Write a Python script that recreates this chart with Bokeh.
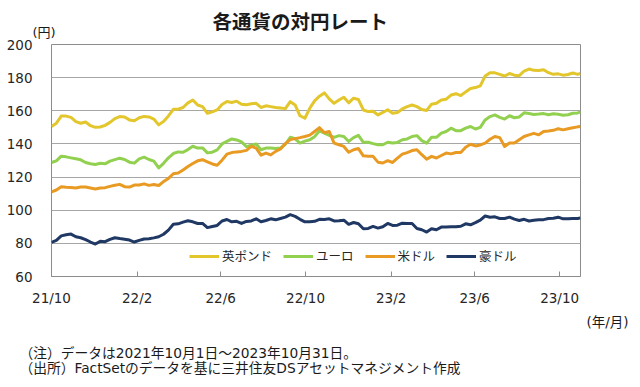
import pandas as pd
from datetime import datetime
from bokeh.plotting import figure
from bokeh.models import (Range1d, FixedTicker, Legend, LegendItem,
                          ColumnDataSource, Title)
from bokeh.embed import file_html
from bokeh.resources import INLINE

# ---------------- data (weekly readings, yen per unit) ----------------
dates = list(pd.date_range("2021-10-01", "2023-10-27", freq="7D")) + [pd.Timestamp("2023-10-31")]

gbp = [150.5, 152.5, 156.8, 156.8, 156.0, 153.5, 152.5, 153.2, 151.0, 150.0,
       150.2, 151.2, 153.0, 155.3, 156.5, 156.3, 154.5, 154.0, 155.8, 156.6,
       156.3, 155.0, 151.5, 153.6, 156.9, 160.9, 161.0, 162.0, 164.8, 166.5,
       163.5, 162.5, 158.5, 159.4, 160.5, 163.8, 165.6, 165.0, 165.8, 164.0,
       163.7, 164.2, 164.5, 162.0, 163.0, 162.5, 162.0, 161.7, 161.3, 165.5,
       163.5, 157.0, 155.5, 161.5, 166.0, 168.8, 170.8, 167.2, 164.5, 166.5,
       168.2, 164.8, 167.6, 166.8, 160.5, 159.5, 159.7, 157.5, 159.0, 160.6,
       158.5, 159.0, 161.1, 162.5, 163.5, 162.5, 160.8, 160.2, 164.0, 164.5,
       166.5, 167.0, 169.5, 170.3, 169.2, 171.4, 173.4, 174.0, 175.0, 181.0,
       183.0, 182.9, 182.0, 181.0, 182.5, 181.5, 181.2, 184.0, 185.2, 184.4,
       184.3, 184.8, 183.0, 182.0, 182.3, 181.5, 181.9, 182.8, 182.0, 182.6]

eur = [128.8, 129.8, 132.6, 132.2, 131.6, 131.0, 130.4, 128.8, 128.0, 127.6,
       128.3, 128.0, 129.6, 130.5, 131.4, 130.6, 129.0, 128.4, 131.0, 132.0,
       130.6, 129.6, 125.5, 128.3, 131.6, 134.2, 135.2, 135.0, 136.6, 138.6,
       137.5, 137.6, 134.6, 135.0, 136.4, 140.0, 141.6, 143.0, 142.4, 141.2,
       138.4, 139.2, 140.0, 136.5, 137.5, 137.5, 137.2, 137.5, 139.8, 144.0,
       143.1, 140.5, 141.7, 142.5, 144.4, 147.8, 146.5, 145.2, 144.0, 145.0,
       144.5, 141.5, 143.8, 145.2, 141.0, 141.0, 140.2, 139.5, 139.5, 141.0,
       140.5, 140.9, 142.5, 143.0, 144.5, 145.0, 142.0, 140.5, 144.0, 144.0,
       146.5, 147.5, 149.5, 148.0, 148.0, 149.5, 150.5, 149.0, 150.0, 154.5,
       156.5, 157.5, 156.0, 155.0, 157.0, 155.8, 156.3, 158.8, 158.3, 157.8,
       158.0, 158.3, 157.6, 158.2, 157.9, 157.3, 157.6, 158.5, 158.7, 159.3]

usd = [111.0, 112.2, 114.2, 113.8, 113.7, 113.4, 114.0, 114.0, 113.4, 112.8,
       113.4, 113.6, 114.4, 115.1, 115.6, 114.2, 114.0, 115.2, 115.2, 115.9,
       115.0, 115.5, 114.9, 117.3, 119.2, 122.0, 122.5, 124.3, 126.4, 128.2,
       129.8, 130.5, 129.2, 127.9, 127.1, 130.2, 133.8, 134.8, 135.2, 135.5,
       136.1, 138.5, 137.5, 133.2, 134.5, 133.4, 135.5, 137.0, 140.2, 142.6,
       143.2, 143.8, 144.5, 145.3, 147.5, 149.8, 146.8, 147.5, 140.5, 139.5,
       138.5, 135.0, 136.5, 137.2, 132.8, 132.5, 132.5, 129.0, 128.5, 129.9,
       128.8, 131.4, 133.8, 134.8, 136.0, 136.5, 133.5, 130.8, 132.5, 131.5,
       133.0, 134.5, 134.0, 134.8, 134.8, 138.0, 139.8, 138.8, 139.4, 140.5,
       142.8, 144.5, 143.8, 138.5, 140.5, 140.5, 142.5, 144.5, 145.5, 146.4,
       145.5, 147.5, 147.8, 148.2, 149.2, 148.5, 149.2, 149.8, 150.3, 150.5]

aud = [80.6, 81.8, 84.5, 85.2, 85.6, 84.0, 83.4, 82.3, 80.8, 79.6,
       81.2, 81.0, 82.4, 83.4, 82.9, 82.5, 82.0, 80.8, 81.8, 82.6,
       82.8, 83.3, 84.0, 85.5, 88.0, 91.5, 91.8, 92.8, 93.6, 93.0,
       92.0, 92.0, 89.5, 90.2, 90.8, 93.5, 94.4, 93.0, 93.3, 92.0,
       93.2, 93.5, 94.8, 93.0, 93.8, 94.8, 94.2, 95.0, 95.8, 97.3,
       96.3, 94.5, 93.0, 93.0, 93.3, 94.5, 94.4, 94.8, 93.5, 93.6,
       94.0, 91.5, 92.6, 91.8, 88.8, 89.0, 90.2, 89.2, 90.0, 92.0,
       90.8, 91.0, 92.2, 92.0, 92.0, 89.0, 88.2, 86.8, 88.8, 88.2,
       89.8, 89.8, 90.0, 90.0, 90.3, 91.8, 91.2, 92.5, 94.0, 96.5,
       95.8, 96.0, 95.0, 95.0, 95.8, 94.6, 93.8, 94.5, 93.5, 94.0,
       94.3, 94.3, 95.0, 95.2, 95.8, 94.8, 94.9, 95.0, 95.0, 95.4]

series_names = ["英ポンド", "ユーロ", "米ドル", "豪ドル"]
series_colors = ["#E3C62C", "#92D050", "#E89A22", "#1F3864"]

tick_dates = ["2021-10-01", "2022-02-01", "2022-06-01", "2022-10-01",
              "2023-02-01", "2023-06-01", "2023-10-01"]
tick_labels = ["21/10", "22/2", "22/6", "22/10", "23/2", "23/6", "23/10"]
y_ticks = [60, 80, 100, 120, 140, 160, 180, 200]

title_text = "各通貨の対円レート"
y_unit = "(円)"
x_unit = "(年/月)"
note1 = "（注）データは2021年10月1日～2023年10月31日。"
note2 = "（出所）FactSetのデータを基に三井住友DSアセットマネジメント作成"

FONT = "DejaVu Sans, Noto Sans CJK JP"
CJK = "Noto Sans CJK JP"

# ---------------- figure ----------------
FL, FT = 51, 44            # frame left / top
FW, FH = 529, 232          # frame size
X0, X1 = datetime(2021, 10, 1), datetime(2023, 10, 31)
Y0, Y1 = 60, 200

p = figure(frame_width=FW, frame_height=FH, x_axis_type="datetime",
           x_range=Range1d(X0, X1), y_range=Range1d(Y0, Y1),
           output_backend="svg", toolbar_location=None,
           title_location=None,
           min_border_left=FL, min_border_top=FT,
           min_border_right=52, min_border_bottom=103)
p.background_fill_color = "white"
p.border_fill_color = "white"
p.outline_line_color = "#8C8C8C"
p.outline_line_width = 1

src = ColumnDataSource(dict(date=dates, gbp=gbp, eur=eur, usd=usd, aud=aud))
renderers = []
for key, col in zip(["gbp", "eur", "usd", "aud"], series_colors):
    r = p.line("date", key, source=src, line_color=col, line_width=3,
               line_join="round")
    renderers.append(r)

# x axis
tick_ms = [pd.Timestamp(d).value / 1e6 for d in tick_dates]
p.xaxis.ticker = FixedTicker(ticks=tick_ms)
p.xaxis.major_label_overrides = {t: l for t, l in zip(tick_ms, tick_labels)}
p.xaxis.major_tick_in = 5
p.xaxis.major_tick_out = 0
p.xaxis.minor_tick_in = 0
p.xaxis.minor_tick_out = 0
p.xaxis.major_tick_line_color = "#8C8C8C"
p.xaxis.axis_line_color = "#8C8C8C"
p.xaxis.major_label_standoff = 13
p.xaxis.major_label_text_font = "DejaVu Sans"
p.xaxis.major_label_text_font_size = "13.5px"
p.xaxis.major_label_text_color = "#262626"
p.xgrid.grid_line_color = None

# y axis
p.yaxis.ticker = FixedTicker(ticks=y_ticks)
p.yaxis.major_tick_in = 0
p.yaxis.major_tick_out = 0
p.yaxis.minor_tick_in = 0
p.yaxis.minor_tick_out = 0
p.yaxis.axis_line_color = None
p.yaxis.major_label_standoff = 19
p.yaxis.major_label_text_font = "DejaVu Sans"
p.yaxis.major_label_text_font_size = "13.5px"
p.yaxis.major_label_text_color = "#262626"
p.ygrid.grid_line_color = "#A6A6A6"
p.ygrid.grid_line_width = 1

# legend
legend = Legend(items=[LegendItem(label=n, renderers=[r]) for n, r in zip(series_names, renderers)],
                orientation="horizontal", location=(138, 11),
                padding=0, margin=0, spacing=11, label_standoff=3,
                glyph_width=30, glyph_height=12, label_height=12,
                background_fill_alpha=0, border_line_alpha=0,
                label_text_font=CJK, label_text_font_size="12.5px",
                label_text_color="#262626")
p.add_layout(legend)

# texts above the plot (nearest first)
p.add_layout(Title(text=y_unit, align="left", offset=32 - FL, standoff=6,
                   vertical_align="top",
                   text_font=FONT, text_font_size="13px",
                   text_font_style="normal", text_color="#1a1a1a"), "above")
p.add_layout(Title(text=title_text, align="left", offset=212 - FL, standoff=-24,
                   vertical_align="bottom",
                   text_font=FONT, text_font_size="19.5px",
                   text_font_style="bold", text_color="#1a1a1a"), "above")

# texts below the plot (nearest first)
p.add_layout(Title(text=x_unit, align="right", offset=-48, standoff=10,
                   vertical_align="top",
                   text_font=FONT, text_font_size="13.5px",
                   text_font_style="normal", text_color="#1a1a1a"), "below")
p.add_layout(Title(text=note1, align="left", offset=-32, standoff=13,
                   vertical_align="bottom",
                   text_font=FONT, text_font_size="13.75px",
                   text_font_style="normal", text_color="#1a1a1a"), "below")
p.add_layout(Title(text=note2, align="left", offset=-32, standoff=-15,
                   vertical_align="top",
                   text_font=FONT, text_font_size="13.75px",
                   text_font_style="normal", text_color="#1a1a1a"), "below")

open("out.html", "w").write(file_html(p, INLINE))
